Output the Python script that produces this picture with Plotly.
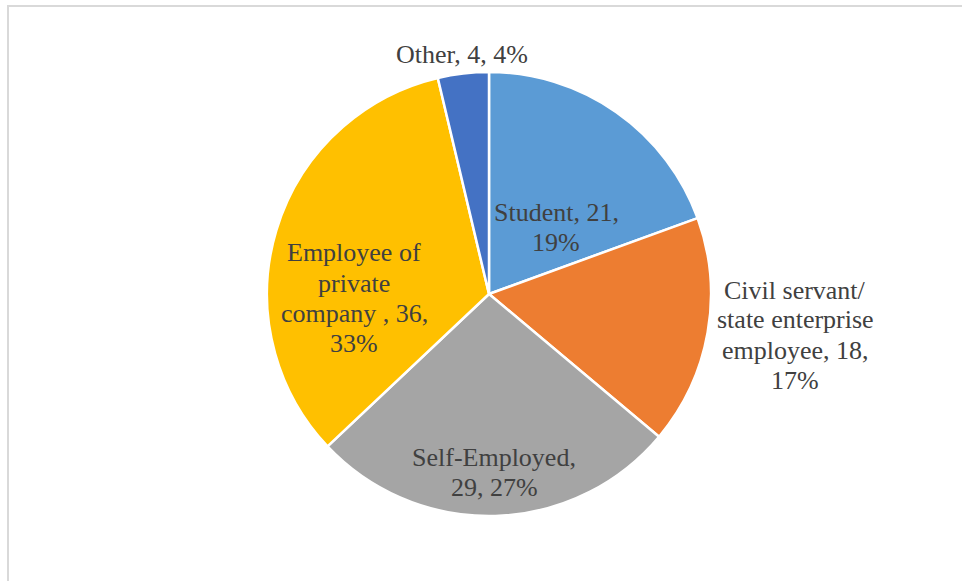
import plotly.graph_objects as go

# Occupation breakdown of respondents
categories = ["Student", "Civil servant/ state enterprise employee", "Self-Employed",
              "Employee of private company ", "Other"]
counts = [21, 18, 29, 36, 4]
colors = ["#5B9BD5", "#ED7D31", "#A5A5A5", "#FFC000", "#4472C4"]

W, H = 962, 581
total = sum(counts)
pcts = [round(100 * c / total) for c in counts]

# Label line templates (how each data label wraps)
label_templates = [
    ["Student, {v},", "{p}%"],
    ["Civil servant/", "state enterprise", "employee, {v},", "{p}%"],
    ["Self-Employed,", "{v}, {p}%"],
    ["Employee of", "private", "company , {v},", "{p}%"],
    ["Other, {v}, {p}%"],
]
# Label block centres in pixels (x, y of first line) and line spacing
label_pos = [(556, 212), (795, 290), (494, 457), (354, 253), (462, 54)]
line_gap = 30

fig = go.Figure(go.Pie(
    labels=categories,
    values=counts,
    sort=False,
    direction="clockwise",
    rotation=0,
    marker=dict(colors=colors, line=dict(color="white", width=2.5)),
    textinfo="none",
    hoverinfo="label+value+percent",
    showlegend=False,
    domain=dict(x=[(489 - 222) / W, (489 + 222) / W],
                y=[(H - 516) / H, (H - 72) / H]),
))

annotations = []
for tmpl, v, p, (cx, cy) in zip(label_templates, counts, pcts, label_pos):
    for i, line in enumerate(tmpl):
        annotations.append(dict(
            text=line.format(v=v, p=p),
            x=cx / W, y=1 - (cy + i * line_gap) / H,
            xref="paper", yref="paper",
            xanchor="center", yanchor="middle",
            showarrow=False,
            font=dict(family="Liberation Serif", size=26, color="#404040"),
        ))

fig.update_layout(
    width=W, height=H,
    margin=dict(l=0, r=0, t=0, b=0),
    paper_bgcolor="white",
    plot_bgcolor="white",
    annotations=annotations,
    shapes=[dict(type="rect", xref="paper", yref="paper",
                 x0=8 / W, x1=1.02, y0=-0.02, y1=1 - 6 / H,
                 line=dict(color="#D9D9D9", width=2), layer="below")],
)

fig.write_html("out.html")
